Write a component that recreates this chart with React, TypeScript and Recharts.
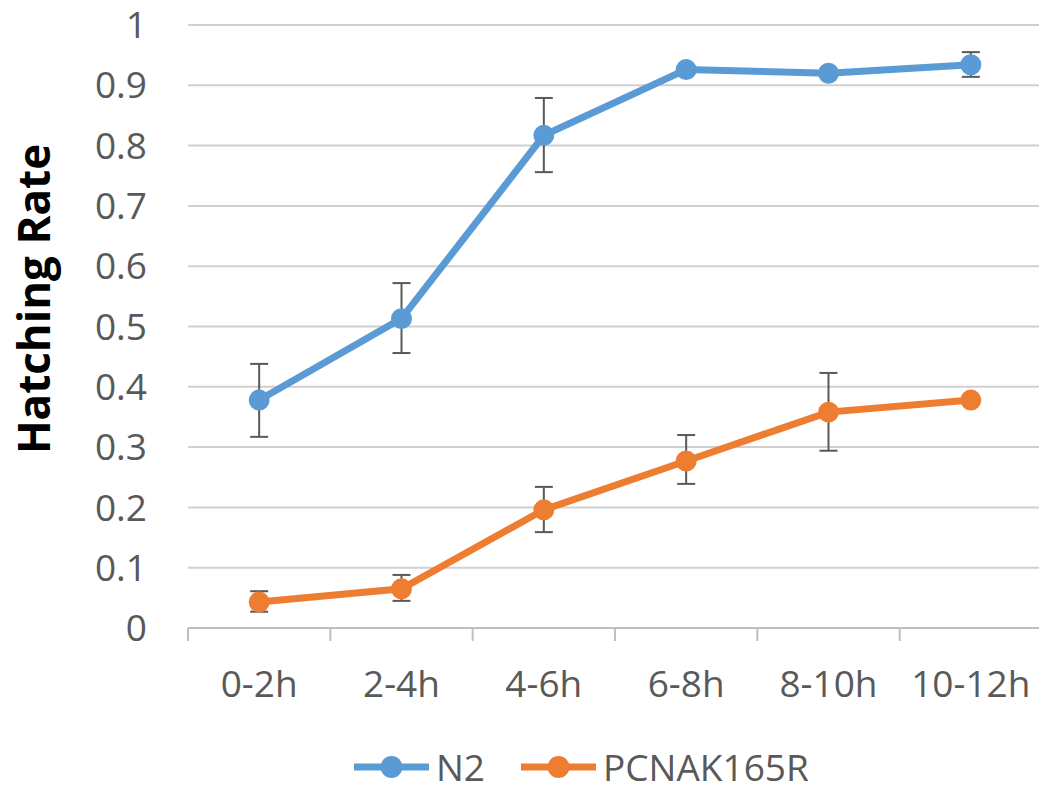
import { CartesianGrid, ErrorBar, Legend, Line, LineChart, XAxis, YAxis } from "recharts";

document.body.style.margin = "0";

const categories = ["0-2h", "2-4h", "4-6h", "6-8h", "8-10h", "10-12h"];
const n2Rate = [0.378, 0.513, 0.817, 0.926, 0.92, 0.934];
const n2Err = [
  [0.061, 0.06],
  [0.057, 0.059],
  [0.061, 0.062],
  [0.005, 0.005],
  [0.003, 0.003],
  [0.02, 0.021],
];
const pcnaRate = [0.043, 0.065, 0.196, 0.277, 0.358, 0.378];
const pcnaErr = [
  [0.016, 0.018],
  [0.02, 0.023],
  [0.037, 0.038],
  [0.038, 0.043],
  [0.064, 0.065],
  [0.004, 0.004],
];
const yTicks = [0, 0.1, 0.2, 0.3, 0.4, 0.5, 0.6, 0.7, 0.8, 0.9, 1];

const W = 1039;
const H = 789;
const MARGIN = { top: 25, right: -3, left: 0, bottom: 0 };
const Y_W = 188;
const X_H = 161;
const BAND = (W - MARGIN.left - MARGIN.right - Y_W) / categories.length;

const FONT = "'Open Sans', 'Noto Sans', sans-serif";
const TEXT = "#595959";
const AXIS = "#bfbfbf";
const BLUE = "#5b9bd5";
const ORANGE = "#ed7d31";

const data = categories.map((c, i) => ({
  cat: c,
  n2: n2Rate[i],
  n2Err: n2Err[i],
  pcna: pcnaRate[i],
  pcnaErr: pcnaErr[i],
}));

function CategoryTick(props: any) {
  const { x, y, payload, index } = props;
  const half = BAND / 2;
  return (
    <g>
      <line x1={x - half} x2={x - half} y1={y} y2={y + 13} stroke={AXIS} strokeWidth={2} />
      {index === categories.length - 1 && (
        <line x1={x + half} x2={x + half} y1={y} y2={y + 13} stroke={AXIS} strokeWidth={2} />
      )}
      <text x={x} y={y + 69} textAnchor="middle" fill={TEXT} fontSize={37} fontFamily={FONT}>
        {payload.value}
      </text>
    </g>
  );
}

function LegendRow({ payload }: any) {
  return (
    <div style={{ display: "flex", alignItems: "center", height: 50, fontFamily: FONT, fontSize: 37, color: TEXT, lineHeight: "50px", whiteSpace: "nowrap" }}>
      {(payload || []).map((p: any, i: number) => (
        <div key={p.value} style={{ display: "flex", alignItems: "center", marginLeft: i === 0 ? 0 : 36 }}>
          <svg width={75} height={24}>
            <line x1={0} x2={75} y1={12} y2={12} stroke={p.color} strokeWidth={7} />
            <circle cx={37.5} cy={12} r={11} fill={p.color} />
          </svg>
          <span style={{ marginLeft: 7 }}>{p.value}</span>
        </div>
      ))}
    </div>
  );
}

export default function App() {
  return (
    <div style={{ width: W, height: H, background: "#fff" }}>
      <LineChart width={W} height={H} data={data} margin={MARGIN}>
        <CartesianGrid vertical={false} stroke="#d0d0d0" strokeWidth={2} />
        <XAxis
          dataKey="cat"
          height={X_H}
          padding={{ left: BAND / 2, right: BAND / 2 }}
          tickLine={false}
          tickSize={0}
          tickMargin={0}
          axisLine={{ stroke: AXIS, strokeWidth: 2 }}
          tick={<CategoryTick />}
          interval={0}
        />
        <YAxis
          width={Y_W}
          domain={[0, 1]}
          ticks={yTicks}
          tickFormatter={(v: number) => String(v)}
          axisLine={false}
          tickLine={false}
          tickSize={0}
          tickMargin={41}
          tick={{ fill: TEXT, fontSize: 37, fontFamily: FONT }}
          label={{
            content: () => (
              <text
                x={50}
                y={299}
                transform="rotate(-90 50 299)"
                textAnchor="middle"
                fill="#000"
                fontSize={44}
                fontWeight={700}
                fontFamily={FONT}
              >
                Hatching Rate
              </text>
            ),
          }}
        />
        <Legend
          verticalAlign="middle"
          align="center"
          layout="horizontal"
          wrapperStyle={{ position: "absolute", left: 354, top: 742, width: 520, height: 50 }}
          content={<LegendRow />}
        />
        <Line
          dataKey="n2"
          name="N2"
          stroke={BLUE}
          strokeWidth={7}
          dot={{ r: 9, fill: BLUE, stroke: BLUE, strokeWidth: 3 }}
          activeDot={false}
          isAnimationActive={false}
        >
          <ErrorBar dataKey="n2Err" width={9} stroke="#595959" strokeWidth={2} direction="y" />
        </Line>
        <Line
          dataKey="pcna"
          name="PCNAK165R"
          stroke={ORANGE}
          strokeWidth={7}
          dot={{ r: 9, fill: ORANGE, stroke: ORANGE, strokeWidth: 3 }}
          activeDot={false}
          isAnimationActive={false}
        >
          <ErrorBar dataKey="pcnaErr" width={9} stroke="#595959" strokeWidth={2} direction="y" />
        </Line>
      </LineChart>
    </div>
  );
}
